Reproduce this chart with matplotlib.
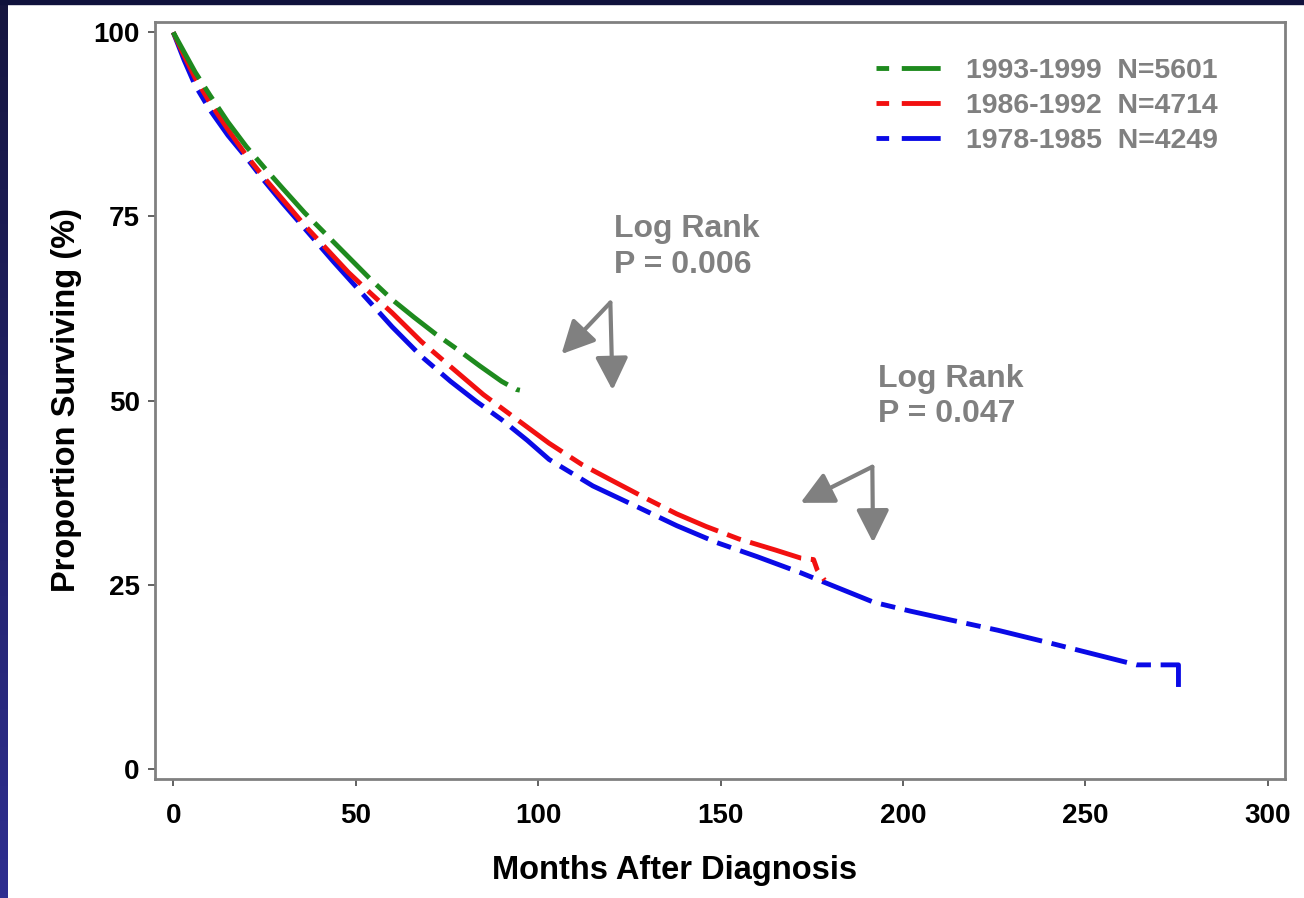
import numpy as np
import matplotlib
matplotlib.use("Agg")
import matplotlib.pyplot as plt
from matplotlib.lines import Line2D
from matplotlib.patches import Rectangle

plt.rcParams['font.family'] = ['Liberation Sans', 'DejaVu Sans']
plt.rcParams['font.weight'] = 'bold'

# Kaplan-Meier curves (months, % surviving)
months_93 = [0, 3, 6, 10, 15, 20, 25, 30, 36, 42, 48, 54, 60, 66, 72, 78, 84, 90, 94, 95]
surv_93 = [100, 97.3, 94.6, 91.5, 87.8, 84.5, 81.6, 78.8, 75.5, 72.5, 69.5, 66.5, 63.7,
           61.3, 59.0, 56.9, 54.7, 52.6, 51.5, 51.4]

months_86 = [0, 3, 6, 10, 15, 20, 25, 30, 36, 42, 48, 54, 60, 68, 76, 85, 94, 103, 112,
             120, 130, 138, 146, 155, 165, 172, 175.5, 176.5, 178.5]
surv_86 = [100, 96.8, 93.8, 90.5, 86.8, 83.3, 80.2, 77.3, 73.8, 70.6, 67.4, 64.6, 61.9,
           58.0, 54.6, 50.8, 47.5, 44.2, 41.3, 39.2, 36.6, 34.6, 32.9, 31.2, 29.7, 28.6,
           28.4, 27.0, 25.6]

months_78 = [0, 3, 6, 10, 15, 20, 25, 30, 37, 44, 50, 60, 68, 76, 83, 90, 97, 103, 115,
             127, 138, 149, 160, 172, 185, 192, 202, 213, 226, 240, 252, 264, 270, 275.5, 275.5]
surv_78 = [100, 96.2, 92.8, 89.5, 86.0, 83.0, 79.8, 76.8, 72.8, 68.8, 65.5, 60.0, 56.0,
           52.6, 49.9, 47.4, 44.6, 42.0, 38.4, 35.6, 33.0, 30.7, 28.8, 26.6, 24.0, 22.6,
           21.4, 20.2, 18.8, 17.1, 15.6, 14.1, 14.1, 14.1, 11.1]

labels = ['1993-1999  N=5601', '1986-1992  N=4714', '1978-1985  N=4249']
colors = ['#1e8a1e', '#f21010', '#0a0ae6']

xticks = [0, 50, 100, 150, 200, 250, 300]
yticks = [0, 25, 50, 75, 100]

fig = plt.figure(figsize=(13.04, 8.98), dpi=100)
fig.patch.set_facecolor('white')

# dark slide border on the left and top
band = fig.add_axes([0, 0, 8 / 1304, 1])
grad = np.linspace(0, 1, 256).reshape(-1, 1)
band.imshow(grad, aspect='auto', cmap=matplotlib.colors.LinearSegmentedColormap.from_list(
    'b', ['#16163f', '#2e2e90']), origin='upper')
band.axis('off')
fig.patches.append(Rectangle((0, 1 - 4 / 898), 1, 4 / 898, transform=fig.transFigure,
                             color='#10123c', zorder=5))

ax = fig.add_axes([155 / 1304, (898 - 779) / 898, 1130 / 1304, 757 / 898])

lw = 3.5
dash = (11, 2, 3, 2)
ax.plot(months_78, surv_78, color=colors[2], lw=lw, dashes=dash, dash_capstyle='butt')
ax.plot(months_86, surv_86, color=colors[1], lw=lw, dashes=dash, dash_capstyle='butt')
ax.plot(months_93, surv_93, color=colors[0], lw=lw, dashes=dash, dash_capstyle='butt')

ax.set_xlim(-5, 304.7)
ax.set_ylim(-1.4, 101.4)
ax.set_xticks(xticks)
ax.set_yticks(yticks)
ax.tick_params(direction='out', length=5, width=1.3, color='#555555', labelsize=20,
               labelcolor='black')
ax.tick_params(axis='x', pad=12)
ax.tick_params(axis='y', pad=6)
for s in ax.spines.values():
    s.set_color('#808080')
    s.set_linewidth(2)

ax.set_xlabel('Months After Diagnosis', fontsize=23.5, fontweight='bold')
ax.set_ylabel('Proportion Surviving (%)', fontsize=23.5, fontweight='bold')
ax.xaxis.set_label_coords(0.46, -0.10)
ax.yaxis.set_label_coords(-0.065, 0.50)

# legend: short dash then long dash
handles = [Line2D([], [], color=c, lw=lw, dashes=(2.6, 2.6, 8, 2.6), dash_capstyle='butt')
           for c in colors]
ax.legend(handles, labels, loc='upper left', bbox_to_anchor=(0.638, 0.953), frameon=False,
          fontsize=20.5, labelcolor='#808080', handlelength=2.3, handletextpad=0.85,
          labelspacing=0.32, borderpad=0, borderaxespad=0)

gray = '#808080'
ax.text(120.9, 75.3, 'Log Rank\nP = 0.006', color=gray, fontsize=23, va='top', ha='left',
        linespacing=1.25)
ax.text(193.2, 55.0, 'Log Rank\nP = 0.047', color=gray, fontsize=23, va='top', ha='left',
        linespacing=1.25)

arrow = dict(arrowstyle='-|>,head_length=1.0,head_width=0.5', lw=3, color=gray,
             mutation_scale=20, shrinkA=0, shrinkB=0)
for vertex, tips in [((119.8, 63.3), [(106.4, 56.3), (120.4, 51.4)]),
                     ((191.6, 41.0), [(171.9, 36.1), (191.8, 30.7)])]:
    for tip in tips:
        ax.annotate('', xy=tip, xytext=vertex, arrowprops=arrow)

fig.savefig('out.png', dpi=100)
